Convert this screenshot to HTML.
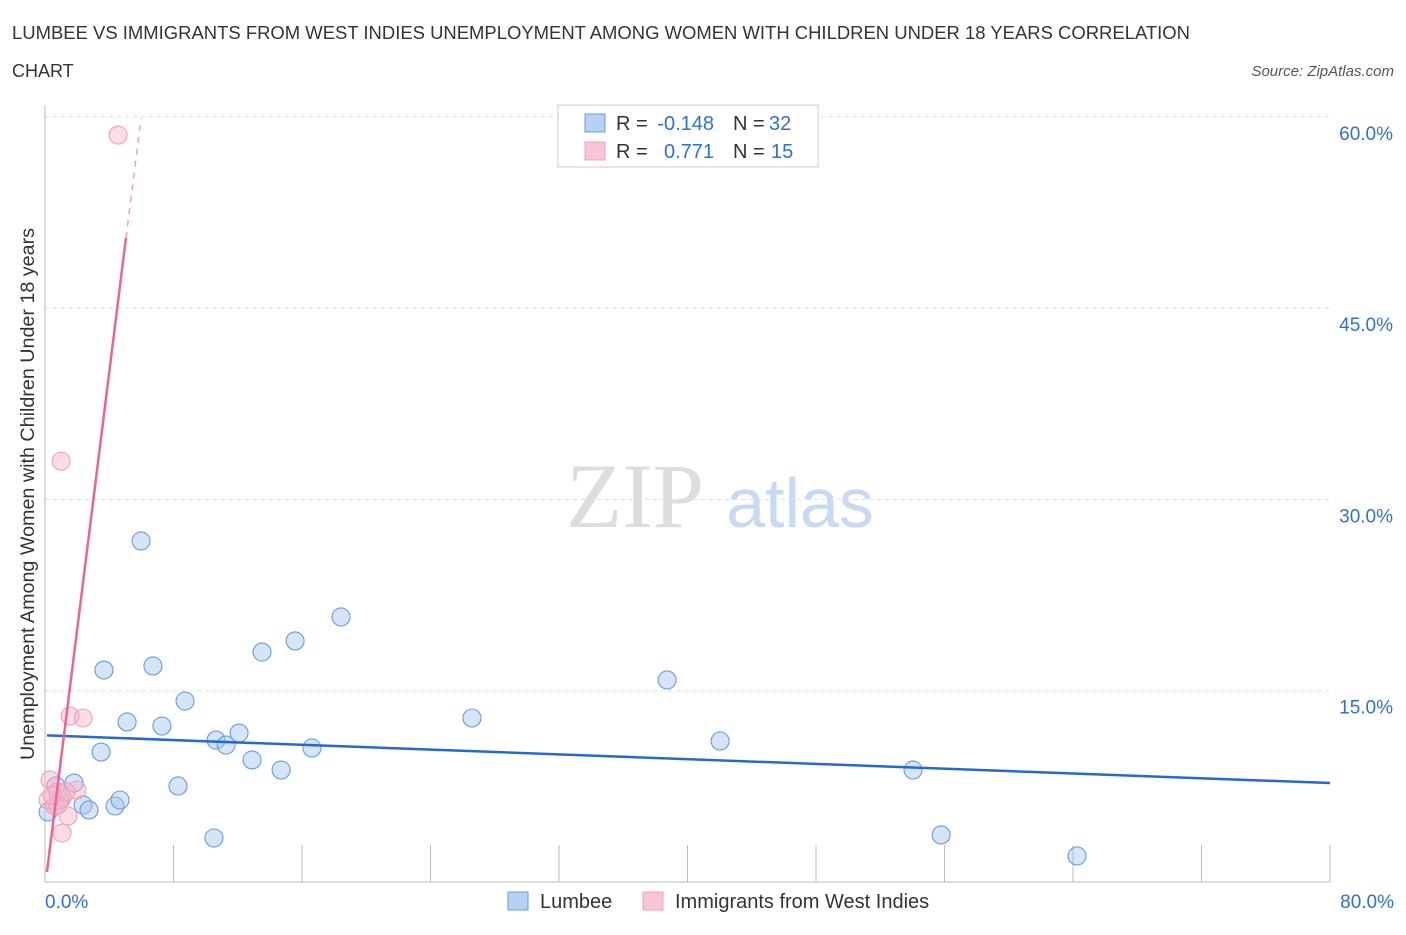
<!DOCTYPE html>
<html><head><meta charset="utf-8"><style>
body{margin:0;background:#fff;font-family:"Liberation Sans",sans-serif;}
</style></head><body>
<svg width="1406" height="930" xmlns="http://www.w3.org/2000/svg" id="chart" font-family="Liberation Sans, sans-serif">
<text x="12" y="39" font-size="18" fill="#333" textLength="1178" lengthAdjust="spacingAndGlyphs">LUMBEE VS IMMIGRANTS FROM WEST INDIES UNEMPLOYMENT AMONG WOMEN WITH CHILDREN UNDER 18 YEARS CORRELATION</text>
<text x="12" y="77" font-size="18" fill="#333">CHART</text>
<text x="1394" y="76" font-size="15" fill="#555" font-style="italic" text-anchor="end">Source: ZipAtlas.com</text>
<text x="635" y="527" font-size="92" fill="#ddd" font-family="Liberation Serif, serif" text-anchor="middle">ZIP</text>
<text x="800" y="527" font-size="70" fill="#c8daf2" text-anchor="middle">atlas</text>
<text transform="translate(34,494) rotate(-90)" font-size="19" fill="#333" text-anchor="middle" textLength="532" lengthAdjust="spacingAndGlyphs">Unemployment Among Women with Children Under 18 years</text>
<g id="grid"></g><g id="marks"></g>
<g>
<rect x="558" y="105" width="260" height="62" fill="#fff" stroke="#ccc"/>
<rect x="585" y="114" width="20" height="18" fill="#b7d0f5" stroke="#6a9be0"/>
<rect x="585" y="142" width="20" height="18" fill="#f9c4d3" stroke="#f0a0b8"/>
<text x="616" y="130" font-size="20" fill="#333">R =</text>
<text x="714" y="130" font-size="20" fill="#2f6fd6" text-anchor="end">-0.148</text>
<text x="733" y="130" font-size="20" fill="#333">N =</text>
<text x="769" y="130" font-size="20" fill="#2f6fd6">32</text>
<text x="616" y="158" font-size="20" fill="#333">R =</text>
<text x="714" y="158" font-size="20" fill="#2f6fd6" text-anchor="end">0.771</text>
<text x="733" y="158" font-size="20" fill="#333">N =</text>
<text x="771" y="158" font-size="20" fill="#2f6fd6">15</text>
</g>
<g>
<rect x="508" y="892" width="20" height="18" fill="#b7d0f5" stroke="#6a9be0"/>
<text x="540" y="908" font-size="20" fill="#333">Lumbee</text>
<rect x="643" y="892" width="20" height="18" fill="#f9c4d3" stroke="#f0a0b8"/>
<text x="675" y="908" font-size="20" fill="#333">Immigrants from West Indies</text>
</g>
</svg>
<script>
const yTicks=[15,30,45,60];
const yTickLabels=["15.0%","30.0%","45.0%","60.0%"];
const xTicks=[0,8,16,24,32,40,48,56,64,72,80];
const lumbeeX=[5.98,3.67,6.72,8.72,5.11,7.28,3.49,10.65,11.27,12.08,13.51,15.57,18.43,12.89,14.70,16.62,8.28,10.52,26.58,38.73,42.03,54.04,55.79,64.25,1.81,0.68,2.37,2.74,4.36,4.67,0.19,0.93];
const lumbeeY=[26.74,16.62,16.94,14.19,12.55,12.23,10.19,11.13,10.74,11.68,18.03,18.90,20.78,9.57,8.78,10.51,7.53,3.45,12.86,15.84,11.06,8.78,3.69,2.04,7.76,7.53,6.04,5.65,5.96,6.43,5.49,6.43];
const wiX=[4.55,1.00,1.56,2.37,0.31,1.99,0.75,1.06,1.31,0.62,1.43,1.06,0.19,0.81,0.44];
const wiY=[58.57,33.00,13.02,12.86,8.00,7.21,7.06,6.59,7.06,5.96,5.18,3.84,6.43,6.04,6.82];
const lumbeeTrend=[[0.12,11.5],[80,7.76]];
const wiTrend=[[0.12,0.78],[5.04,50.5]];
const wiTrendDash=[[5.04,50.5],[5.98,59.9]];
const sx=v=>45+v*1285/80, sy=v=>882-v*191.3/15;
const NS="http://www.w3.org/2000/svg";
const grid=document.getElementById('grid'), marks=document.getElementById('marks');
function mk(tag,attrs,parent){const e=document.createElementNS(NS,tag);for(const k in attrs)e.setAttribute(k,attrs[k]);parent.appendChild(e);return e;}
yTicks.forEach((t,i)=>{
 const l=mk('line',{x1:45,x2:1330,y1:sy(t),y2:sy(t),stroke:'#ddd','stroke-dasharray':'4,4'},grid);
 
 
 const tx=mk('text',{x:1393,y:sy(t)+23,'font-size':19,fill:'#2f6fd6','text-anchor':'end'},grid);
 tx.textContent=yTickLabels[i];
 
 
});
const ax=mk('line',{x1:45,x2:1330,y1:882,y2:882,stroke:'#bbb'},grid);


const ay=mk('line',{x1:45,x2:45,y1:105,y2:882,stroke:'#bbb'},grid);


xTicks.forEach(t=>{const l=mk('line',{x1:sx(t),x2:sx(t),y1:845,y2:882,stroke:'#bbb'},grid);
 
 });
[[0,"0.0%",'start',45],[80,"80.0%",'end',1394]].forEach(a=>{const tx=mk('text',{x:a[3],y:908,'font-size':19,fill:'#2f6fd6','text-anchor':a[2]},grid);tx.textContent=a[1];
 
 });
lumbeeX.forEach((x,i)=>{const c=mk('circle',{cx:sx(x),cy:sy(lumbeeY[i]),r:9,fill:'rgba(164,196,240,0.45)',stroke:'#6a9be0','stroke-width':1.1},marks);
 
 });
wiX.forEach((x,i)=>{const c=mk('circle',{cx:sx(x),cy:sy(wiY[i]),r:9,fill:'rgba(248,180,200,0.45)',stroke:'#f0a0b8','stroke-width':1.1},marks);
 
 });
const l1=mk('line',{x1:sx(lumbeeTrend[0][0]),y1:sy(lumbeeTrend[0][1]),x2:sx(lumbeeTrend[1][0]),y2:sy(lumbeeTrend[1][1]),stroke:'#2468d8','stroke-width':2.5},marks);


const l2=mk('line',{x1:sx(wiTrend[0][0]),y1:sy(wiTrend[0][1]),x2:sx(wiTrend[1][0]),y2:sy(wiTrend[1][1]),stroke:'#e8649a','stroke-width':2.5},marks);


const l3=mk('line',{x1:sx(wiTrendDash[0][0]),y1:sy(wiTrendDash[0][1]),x2:sx(wiTrendDash[1][0]),y2:sy(wiTrendDash[1][1]),stroke:'#f0a0b8','stroke-width':1.5,'stroke-dasharray':'6,6'},marks);


</script>
</body></html>
